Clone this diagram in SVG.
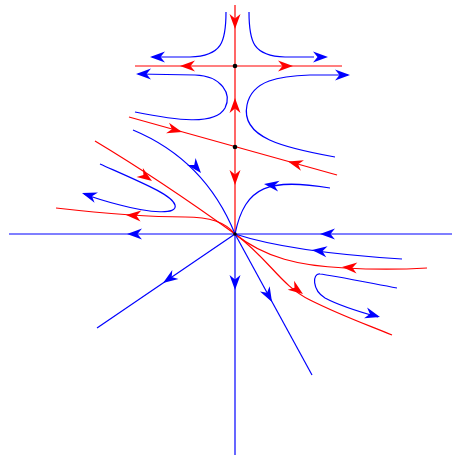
<svg xmlns="http://www.w3.org/2000/svg" xmlns:xlink="http://www.w3.org/1999/xlink" width="452" height="455" viewBox="0 0 452 455">
<style>
.r{fill:none;stroke:#ff0000;stroke-width:1.2}
.b{fill:none;stroke:#0000ff;stroke-width:1.2}
.ar{fill:#ff0000}
.ab{fill:#0000ff}
.pt{fill:#000000}
</style>
<defs>
<path id="ah" d="M0,0 L-15,-5.5 L-10.5,0 L-15,5.5 Z"/>
</defs>
<rect width="452" height="455" fill="#ffffff"/>
<g id="connectors">
<!-- axes -->
<path class="b" d="M9,234 H452"/>
<path class="b" d="M235,234 V455"/>
<path class="r" d="M235,5 V234"/>
<!-- red separatrices -->
<path class="r" d="M135,66 H342"/>
<path class="r" d="M129,117 L337,175"/>
<path class="r" d="M95,141 Q160,180 235,234"/>
<path class="r" d="M56,208 C100,213 150,217 185,217 C210,217 225,222 235,234"/>
<path class="r" d="M235,234 C265,258 300,266 345,268 C380,270 410,269 427,268"/>
<path class="r" d="M235,234 C270,260 280,285 310,300 C340,315 360,322 392,335"/>
<!-- blue hyperbolas near saddle 1 -->
<path class="b" d="M226,12 C226,42 222,56 190,57 L152,57"/>
<path class="b" d="M249,12 C249,42 253,56 285,57 L314,57"/>
<path class="b" d="M135,112 C175,120 215,126 225,108 C232,94 222,76 195,75 L138,74"/>
<path class="b" d="M335,157 C285,148 240,138 247,105 C252,80 280,76 310,75 L348,75"/>
<!-- blue trajectories -->
<path class="b" d="M133,130 Q205,160 235,234"/>
<path class="b" d="M330,188 C270,178 245,185 235,234"/>
<path class="b" d="M100,164 C145,184 172,195 175,205 C178,215 150,213 120,205 Q100,200 84,194"/>
<path class="b" d="M235,234 L97,328"/>
<path class="b" d="M235,234 L312,375"/>
<path class="b" d="M235,234 Q290,252 402,259"/>
<path class="b" d="M397,288 C360,281 330,275 320,274 C312,273 312,290 325,298 C340,306 360,312 378,317"/>
<!-- arrowheads red -->
<use xlink:href="#ah" class="ar" transform="translate(235,29) rotate(90)"/>
<use xlink:href="#ah" class="ar" transform="translate(235,98) rotate(-90)"/>
<use xlink:href="#ah" class="ar" transform="translate(235,185) rotate(90)"/>
<use xlink:href="#ah" class="ar" transform="translate(180,66) rotate(180)"/>
<use xlink:href="#ah" class="ar" transform="translate(293,66)"/>
<use xlink:href="#ah" class="ar" transform="translate(182,132) rotate(15.6)"/>
<use xlink:href="#ah" class="ar" transform="translate(288,161.5) rotate(195.6)"/>
<use xlink:href="#ah" class="ar" transform="translate(152,181) rotate(35)"/>
<use xlink:href="#ah" class="ar" transform="translate(126,215) rotate(184)"/>
<use xlink:href="#ah" class="ar" transform="translate(342,267) rotate(184)"/>
<use xlink:href="#ah" class="ar" transform="translate(303,294) rotate(36)"/>
<!-- arrowheads blue -->
<use xlink:href="#ah" class="ab" transform="translate(150,57) rotate(180)"/>
<use xlink:href="#ah" class="ab" transform="translate(328,57)"/>
<use xlink:href="#ah" class="ab" transform="translate(136,74) rotate(180)"/>
<use xlink:href="#ah" class="ab" transform="translate(350,75)"/>
<use xlink:href="#ah" class="ab" transform="translate(201,173) rotate(50)"/>
<use xlink:href="#ah" class="ab" transform="translate(264,184) rotate(188)"/>
<use xlink:href="#ah" class="ab" transform="translate(82,193) rotate(198)"/>
<use xlink:href="#ah" class="ab" transform="translate(127,234) rotate(180)"/>
<use xlink:href="#ah" class="ab" transform="translate(320,234) rotate(180)"/>
<use xlink:href="#ah" class="ab" transform="translate(312,250) rotate(187)"/>
<use xlink:href="#ah" class="ab" transform="translate(380,317) rotate(16)"/>
<use xlink:href="#ah" class="ab" transform="translate(163,283) rotate(145.7)"/>
<use xlink:href="#ah" class="ab" transform="translate(235,290) rotate(90)"/>
<use xlink:href="#ah" class="ab" transform="translate(272,302) rotate(61.4)"/>
</g>
<g id="saddle1"><circle class="pt" cx="235" cy="66" r="2.3"/></g>
<g id="saddle2"><circle class="pt" cx="235" cy="147" r="2.3"/></g>
<g id="origin"><circle class="pt" cx="235" cy="234" r="1.8"/></g>
</svg>
